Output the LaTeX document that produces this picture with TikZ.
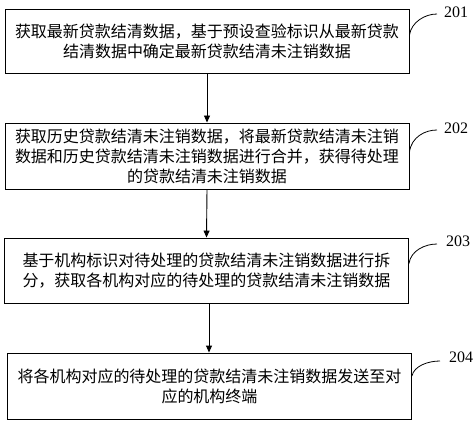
\documentclass[tikz,border=0pt]{standalone}
\usepackage{fontspec}
\setmainfont{Liberation Serif}
\newfontfamily\cjk{Noto Sans CJK SC}
\usetikzlibrary{arrows.meta}
\begin{document}
\begin{tikzpicture}[x=1pt,y=-1pt,
 stepbox/.style={draw, line width=0.9pt, minimum width=404pt, inner sep=0pt, align=center, font=\cjk\fontsize{16}{20}\selectfont},
 lbl/.style={font=\fontsize{16}{18}\selectfont, anchor=west, inner sep=0pt},
 conn/.style={line width=0.9pt, -{Triangle[length=7pt,width=6pt]}},
 lead/.style={line width=0.8pt}]
\useasboundingbox (0,0) rectangle (474,425);
\node[stepbox, minimum height=64pt] (b1) at (207,41) {获取最新贷款结清数据，基于预设查验标识从最新贷款\\结清数据中确定最新贷款结清未注销数据};
\node[stepbox, minimum height=66pt] (b2) at (207,156) {获取历史贷款结清未注销数据，将最新贷款结清未注销\\数据和历史贷款结清未注销数据进行合并，获得待处理\\的贷款结清未注销数据};
\node[stepbox, minimum height=65pt] (b3) at (206.5,270.5) {基于机构标识对待处理的贷款结清未注销数据进行拆\\分，获取各机构对应的待处理的贷款结清未注销数据};
\node[stepbox, minimum height=66pt] (b4) at (209.5,386) {将各机构对应的待处理的贷款结清未注销数据发送至对\\应的机构终端};
\draw[conn] (b1.south) -- (b2.north);
\draw[conn] (b2.south) -- (b3.north);
\draw[conn] ([xshift=2.5pt]b3.south) -- ([xshift=-0.5pt]b4.north);
\node[lbl] (l1) at (444,12) {201};
\node[lbl] (l2) at (444,128) {202};
\node[lbl] (l3) at (446,241) {203};
\node[lbl] (l4) at (449,357) {204};
\coordinate (e1) at (437,14);
\coordinate (e2) at (437,130);
\coordinate (e3) at (437,244);
\coordinate (e4) at (440,361);
\draw[lead] ([yshift=6pt]b1.east) .. controls +(2,-13) and +(-12,0) .. (e1);
\draw[lead] ([yshift=4pt]b2.east) .. controls +(2,-15) and +(-12,0) .. (e2);
\draw[lead] ([yshift=7pt]b3.east) .. controls +(2,-13) and +(-12,0) .. (e3);
\draw[lead] ([yshift=10pt]b4.east) .. controls +(2,-10) and +(-12,0) .. (e4);
\end{tikzpicture}
\end{document}
